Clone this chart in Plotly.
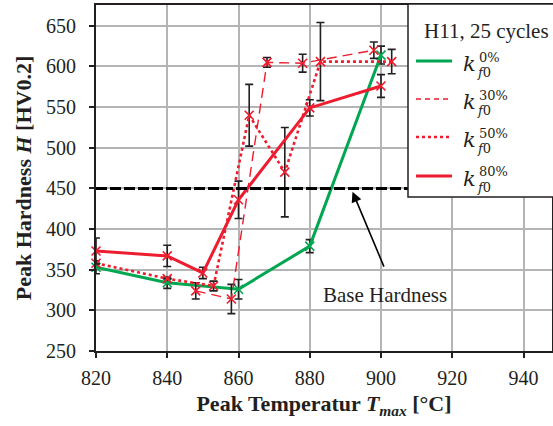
import plotly.graph_objects as go

# ---------------- data ----------------
T0 = [820, 840, 860, 880, 900]
H0 = [353, 334, 326, 379, 614]
E0 = [8, 7, 12, 8, 11]

T30 = [848, 858, 868, 878, 898]
H30 = [324, 314, 605, 604, 620]
E30 = [10, 18, 6, 11, 10]

T50 = [820, 840, 853, 863, 873, 883, 903]
H50 = [358, 339, 330, 540, 470, 606, 606]
E50 = [0, 0, 6, 38, 55, 48, 15]

T80 = [820, 840, 850, 860, 880, 900]
H80 = [373, 367, 346, 436, 549, 576]
E80 = [16, 13, 7, 23, 10, 14]

BASE_HARDNESS = 450
x_ticks = [820, 840, 860, 880, 900, 920, 940]
y_ticks = [250, 300, 350, 400, 450, 500, 550, 600, 650]

GREEN = "#00a650"
RED = "#ed1c2e"
ERRC = "#231f20"
FONT = "Liberation Serif"
MATHFONT = "DejaVu Serif"

fig = go.Figure()

def add_series(T, H, E, color, dash, width):
    fig.add_trace(go.Scatter(
        x=T, y=H, mode="lines+markers",
        line=dict(color=color, width=width, dash=dash),
        marker=dict(symbol="x-thin", size=9, line=dict(color=color, width=1.6), color=color),
        error_y=dict(type="data", array=E, visible=True, color=ERRC, thickness=1.6, width=4),
        showlegend=False, cliponaxis=False,
    ))

add_series(T0, H0, E0, GREEN, "solid", 3)
add_series(T30, H30, E30, RED, "10px,6px", 1.4)
add_series(T50, H50, E50, RED, "dot", 2.6)
add_series(T80, H80, E80, RED, "solid", 3)

# base hardness line
fig.add_shape(type="line", xref="x domain", yref="y", x0=0, x1=1,
              y0=BASE_HARDNESS, y1=BASE_HARDNESS,
              line=dict(color="black", width=3, dash="11px,3px"), layer="above")

# arrow + label
fig.add_annotation(x=892, y=446, ax=901, ay=352, xref="x", yref="y", axref="x", ayref="y",
                   text="", showarrow=True, arrowhead=2, arrowsize=1.3, arrowwidth=1.6,
                   arrowcolor="black")
fig.add_annotation(x=901, y=319, xref="x", yref="y", text="Base Hardness", showarrow=False,
                   font=dict(family=FONT, size=21, color="#231f20"))

# ---------------- manual legend ----------------
L, R, TOP, BOT = 96, 552, 5, 351
def px(x):
    return (x - L) / (R - L)
def py(y):
    return (BOT - y) / (BOT - TOP)

fig.add_shape(type="rect", xref="paper", yref="paper", x0=px(408), x1=px(560), y0=py(197), y1=py(4),
              line=dict(color="#231f20", width=1.5), fillcolor="white", layer="above")
fig.add_annotation(xref="paper", yref="paper", x=px(486), y=py(31), text="H11, 25 cycles",
                   showarrow=False, font=dict(family=FONT, size=21, color="#231f20"),
                   xanchor="center", yanchor="middle")

legend_items = [("0%", GREEN, "solid", 3), ("30%", RED, "5px,4px", 1.6),
                ("50%", RED, "dot", 2.6), ("80%", RED, "solid", 3)]
ys = [61, 99, 137, 176]
for (lab, col, dash, w), yy in zip(legend_items, ys):
    fig.add_shape(type="line", xref="paper", yref="paper", x0=px(416), x1=px(452),
                  y0=py(yy), y1=py(yy), line=dict(color=col, width=w, dash=dash), layer="above")
    fig.add_annotation(xref="paper", yref="paper", x=px(461), y=py(yy + 3), text="<i>k</i>",
                       showarrow=False, xanchor="left", yanchor="middle",
                       font=dict(family=MATHFONT, size=21, color="#231f20"))
    fig.add_annotation(xref="paper", yref="paper", x=px(477), y=py(yy - 4), text=lab,
                       showarrow=False, xanchor="left", yanchor="middle",
                       font=dict(family=MATHFONT, size=13, color="#231f20"))
    fig.add_annotation(xref="paper", yref="paper", x=px(475), y=py(yy + 11), text="<i>f</i>0",
                       showarrow=False, xanchor="left", yanchor="middle",
                       font=dict(family=MATHFONT, size=13, color="#231f20"))

fig.update_layout(
    width=553, height=426,
    margin=dict(l=L, r=553 - R, t=TOP, b=426 - BOT, autoexpand=False),
    paper_bgcolor="white", plot_bgcolor="white",
    font=dict(family=FONT, size=20, color="#231f20"),
)
fig.update_xaxes(range=[820, 948], tickvals=x_ticks, showgrid=True, gridcolor="#b4b4b4", gridwidth=1.5,
                 showline=True, linecolor="#231f20", linewidth=2, mirror=True,
                 ticks="outside", ticklen=5, tickwidth=1.5, tickcolor="#231f20",
                 tickfont=dict(family=FONT, size=20), ticklabelstandoff=3,
                 zeroline=False, automargin=False,
                 title=dict(text="<b>Peak Temperatur <i>T</i><sub><i>max</i></sub> [°C]</b>",
                            font=dict(family=FONT, size=22), standoff=8))
fig.update_yaxes(range=[250, 675.6], tickvals=y_ticks, showgrid=True, gridcolor="#b4b4b4", gridwidth=1.5,
                 showline=True, linecolor="#231f20", linewidth=2, mirror=True,
                 ticks="outside", ticklen=5, tickwidth=1.5, tickcolor="#231f20",
                 tickfont=dict(family=FONT, size=20), ticklabelstandoff=9,
                 zeroline=False, automargin=False,
                 title=dict(text="<b>Peak Hardness <i>H</i> [HV0.2]</b>",
                            font=dict(family=FONT, size=22), standoff=8))

fig.write_html("out.html", config={"displayModeBar": False},
               post_script="document.body.style.margin='0';document.body.style.overflow='hidden';")
